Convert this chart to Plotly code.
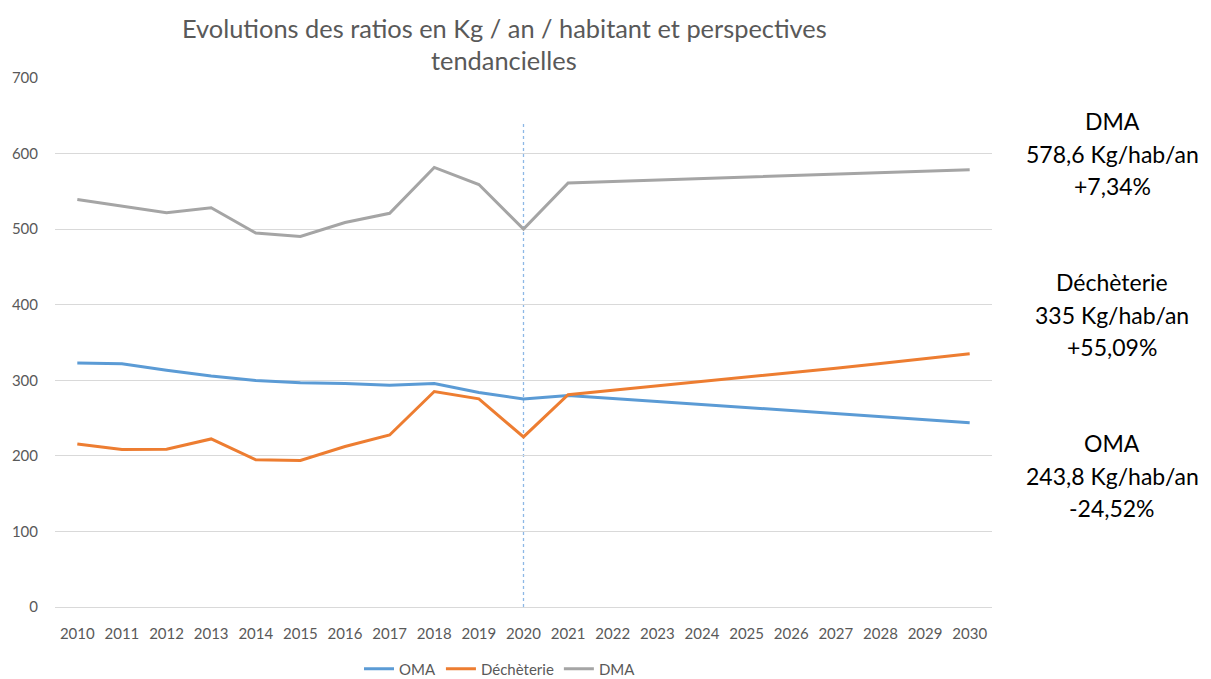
import plotly.graph_objects as go

years = list(range(2010, 2031))
oma = [322.8, 321.9, 313.2, 305.7, 299.6, 296.9, 295.6, 293.4, 295.6, 283.8, 275.4,
       279.8, 276.0, 272.0, 268.1, 264.2, 260.2, 256.0, 252.0, 247.9, 243.8]
decheterie = [215.8, 208.3, 208.8, 222.4, 194.7, 193.9, 212.3, 227.6, 285.1, 275.4, 225.0,
              281.0, 286.7, 292.4, 298.1, 303.9, 309.9, 316.0, 322.2, 328.5, 335.0]
dma = [539.3, 530.6, 521.8, 528.4, 494.8, 490.4, 508.7, 521.0, 581.7, 559.0, 500.0,
       561.1, 563.0, 565.0, 566.9, 568.8, 570.7, 572.7, 574.7, 576.6, 578.6]

series_names = ["OMA", "Déchèterie", "DMA"]
series_values = [oma, decheterie, dma]
colors = ["#5B9BD5", "#ED7D31", "#A5A5A5"]

side_blocks = [
    ["DMA", "578,6 Kg/hab/an", "+7,34%"],
    ["Déchèterie", "335 Kg/hab/an", "+55,09%"],
    ["OMA", "243,8 Kg/hab/an", "-24,52%"],
]
side_block_top_px = [121, 282, 443]

FONT = "Lato, Carlito, Calibri, sans-serif"
OFF = 8  # page body margin in the browser
W, H = 1211 - OFF, 679 - OFF
L, T = 55 - OFF, 78 - OFF
R = W - (992 - OFF)
B = H - (607 - OFF)
PW, PH = W - L - R, H - T - B

fig = go.Figure()
for name, vals, c in zip(series_names, series_values, colors):
    fig.add_trace(go.Scatter(x=years, y=vals, mode="lines", name=name,
                             line=dict(color=c, width=3)))

fig.add_shape(type="line", x0=2020, x1=2020, xref="x", y0=0, y1=642, yref="y",
              line=dict(color="#8DB8E6", width=1.3, dash="3px,3px"), layer="below")

def py(ypix):
    return (H - B - (ypix - OFF)) / PH

def px(xpix):
    return ((xpix - OFF) - L) / PW

annotations = [
    dict(text="Evolutions des ratios en Kg / an / habitant et perspectives", x=px(504), y=py(28),
         xref="paper", yref="paper", showarrow=False, xanchor="center", yanchor="middle",
         font=dict(size=25.4, color="#595959", family=FONT)),
    dict(text="tendancielles", x=px(504), y=py(60),
         xref="paper", yref="paper", showarrow=False, xanchor="center", yanchor="middle",
         font=dict(size=25.4, color="#595959", family=FONT)),
]
for block, top in zip(side_blocks, side_block_top_px):
    for i, line in enumerate(block):
        annotations.append(dict(text=line, x=px(1112), y=py(top + i * 32.5), xref="paper", yref="paper",
                                showarrow=False, xanchor="center", yanchor="middle",
                                font=dict(size=23, color="#000000", family=FONT)))

fig.update_layout(
    width=W, height=H,
    margin=dict(l=L, r=R, t=T, b=B, autoexpand=False),
    plot_bgcolor="white", paper_bgcolor="white",
    font=dict(family=FONT, color="#595959", size=15),
    showlegend=True,
    legend=dict(orientation="h", x=px(500), y=py(669), xanchor="center", yanchor="middle",
                font=dict(size=15, color="#595959", family=FONT), itemwidth=30,
                tracegroupgap=0),
    annotations=annotations,
    xaxis=dict(range=[2009.5, 2030.5], tickmode="array", tickvals=years,
               ticktext=[str(y) for y in years], showgrid=False, zeroline=False,
               showline=False, ticks="", ticklabelstandoff=16,
               tickfont=dict(size=15, color="#595959")),
    yaxis=dict(range=[0, 700], dtick=100, showgrid=True, gridcolor="#D9D9D9", gridwidth=1,
               zeroline=True, zerolinecolor="#D9D9D9", zerolinewidth=1, showline=False, ticks="",
               ticklabelstandoff=16, tickfont=dict(size=15, color="#595959")),
)

fig.write_html("out.html")
